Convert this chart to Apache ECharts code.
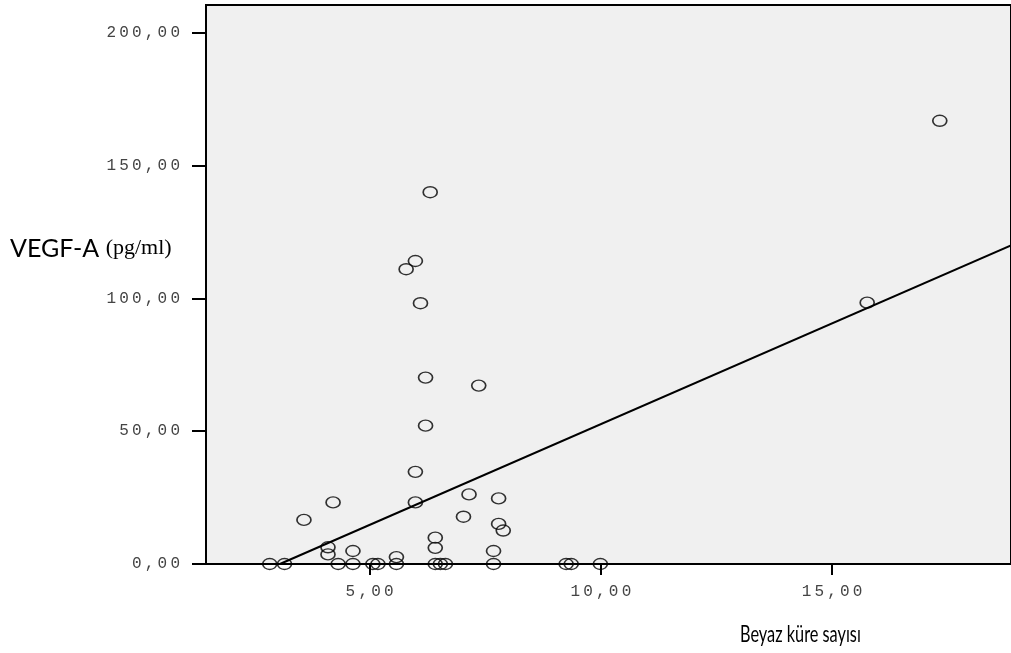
<!DOCTYPE html>
<html>
<head>
<meta charset="utf-8">
<script src="https://cdn.jsdelivr.net/npm/echarts@6/dist/echarts.min.js"></script>
<style>
    html, body { margin: 0; padding: 0; background: #fff; }
    #chart { width: 1011px; height: 653px; }
</style>
</head>
<body>
<div id="chart"></div>
<script>
// Beyaz küre sayısı (x) vs VEGF-A pg/ml (y)
const wbc = [2.84, 3.16, 3.58, 4.21, 4.10, 4.10, 4.32, 4.64, 4.64, 5.07, 5.18, 5.58, 5.58,
    5.99, 5.99, 6.42, 6.42, 6.42, 6.53, 6.64, 7.03, 7.15, 7.79, 7.79, 7.89, 7.68, 7.68,
    9.25, 9.36, 9.99, 6.31, 5.99, 5.79, 6.10, 6.21, 7.36, 6.21, 17.33, 15.76];
const vegf = [0, 0, 16.6, 23.2, 6.3, 3.6, 0, 4.9, 0, 0, 0, 2.6, 0,
    34.7, 23.2, 9.9, 6.1, 0, 0, 0, 17.8, 26.2, 24.7, 15.1, 12.6, 4.9, 0,
    0, 0, 0, 140.0, 114.1, 111.0, 98.2, 70.2, 67.2, 52.1, 166.9, 98.4];

// uçları okunan regresyon çizgisi
const fitX = [3.06, 18.87];
const fitY = [0, 120.0];

const xTicks = [5, 10, 15];
const yTicks = [0, 50, 100, 150, 200];

const chart = echarts.init(document.getElementById('chart'));

function fmt(v) {
    return v.toFixed(2).replace('.', ',').split('').join('\u2009');
}

const labelStyle = {
    fontFamily: 'Liberation Mono',
    fontSize: 16,
    color: '#444'
};

chart.setOption({
    animation: false,
    grid: {
        left: 206, top: 5, right: -2, bottom: 89,
        show: true,
        backgroundColor: '#f0f0f0',
        borderColor: '#000',
        borderWidth: 2
    },
    xAxis: {
        type: 'value',
        min: 1.462,
        max: 18.87,
        axisLine: { lineStyle: { color: '#000', width: 2 } },
        axisTick: { length: 11, lineStyle: { color: '#000', width: 2 }, customValues: xTicks },
        axisLabel: Object.assign({ margin: 20, formatter: fmt, customValues: xTicks }, labelStyle),
        splitLine: { show: false }
    },
    yAxis: {
        type: 'value',
        min: 0,
        max: 210.5,
        axisLine: { lineStyle: { color: '#000', width: 2 } },
        axisTick: { length: 14, lineStyle: { color: '#000', width: 2 }, customValues: yTicks },
        axisLabel: Object.assign({ margin: 26, formatter: fmt, customValues: yTicks }, labelStyle),
        splitLine: { show: false }
    },
    graphic: [
        {
            type: 'text', left: 10, top: 236,
            style: {
                text: '{a|VEGF-A }{b|(pg/ml)}',
                rich: {
                    a: { fontFamily: 'Lato', fontSize: 25, fill: '#000' },
                    b: { fontFamily: 'Liberation Serif', fontSize: 22, fill: '#000' }
                }
            }
        },
        {
            type: 'text', x: 740, y: 622, scaleX: 0.68,
            style: { text: 'Beyaz küre sayısı', fontFamily: 'Lato', fontSize: 24, fill: '#000' }
        }
    ],
    series: [
        {
            type: 'scatter',
            data: wbc.map((x, i) => [x, vegf[i]]),
            symbol: 'circle',
            symbolSize: [14, 11],
            itemStyle: { color: 'transparent', borderColor: '#000', borderWidth: 1.5 },
            z: 3
        },
        {
            type: 'line',
            data: fitX.map((x, i) => [x, fitY[i]]),
            symbol: 'none',
            lineStyle: { color: '#000', width: 2 },
            z: 4
        }
    ]
});
</script>
</body>
</html>
